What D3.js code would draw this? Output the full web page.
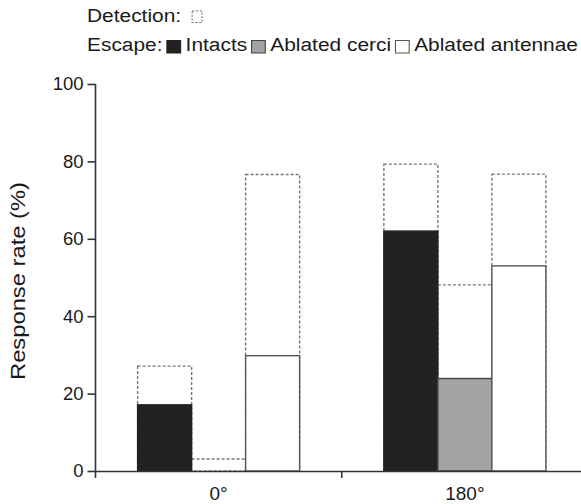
<!DOCTYPE html>
<html>
<head>
<meta charset="utf-8">
<script src="https://cdn.jsdelivr.net/npm/d3@7/dist/d3.min.js"></script>
<style>
  body { margin: 0; background: #fff; }
  svg { display: block; font-family: "Liberation Sans", Arial, sans-serif; }
</style>
</head>
<body>
<svg id="chart" width="581" height="504"></svg>
<script>
// data
var categories = ["0°", "180°"];
var groups = ["Intacts", "Ablated cerci", "Ablated antennae"];
var detection = [[27.1, 3.1, 76.6], [79.3, 48.1, 76.7]];
var escape = [[17.1, 0, 29.8], [62.0, 23.9, 53.0]];
var yTicks = [0, 20, 40, 60, 80, 100];

var fills = ["#222222", "#a3a3a3", "#ffffff"];
var strokes = ["#222222", "#444444", "#555555"];

var svg = d3.select("#chart");

const margin = { top: 84, right: -7, bottom: 33, left: 95.5 };
const width = 581, height = 504;
const Innerwidth = width - margin.left - margin.right;
const Innerheight = height - margin.top - margin.bottom;

var g = svg.append("g")
    .attr("transform", `translate(${margin.left},${margin.top})`);

// scales
var xScale = d3.scaleBand()
    .domain(categories)
    .range([0, Innerwidth])
    .padding(0);

var barW = 54;
var groupW = barW * groups.length;
var xInner = d3.scaleBand()
    .domain(groups)
    .range([(xScale.bandwidth() - groupW) / 2, (xScale.bandwidth() + groupW) / 2]);

var yScale = d3.scaleLinear()
    .domain([0, 100])
    .range([Innerheight, 0]);

// build rows
var rows = [];
categories.forEach(function (c, i) {
    groups.forEach(function (s, j) {
        rows.push({ cat: c, grp: s, j: j, det: detection[i][j], esc: escape[i][j] });
    });
});

// detection boxes (dashed)
g.selectAll(".det")
    .data(rows)
    .enter()
    .append("rect")
    .attr("class", "det")
    .attr("x", d => xScale(d.cat) + xInner(d.grp))
    .attr("y", d => yScale(d.det))
    .attr("width", xInner.bandwidth())
    .attr("height", d => yScale(0) - yScale(d.det))
    .attr("fill", "#fff")
    .attr("stroke", "#777")
    .attr("stroke-width", 1.4)
    .attr("stroke-dasharray", "3,2");

// escape bars
g.selectAll(".esc")
    .data(rows.filter(d => d.esc > 0))
    .enter()
    .append("rect")
    .attr("class", "esc")
    .attr("x", d => xScale(d.cat) + xInner(d.grp))
    .attr("y", d => yScale(d.esc))
    .attr("width", xInner.bandwidth())
    .attr("height", d => yScale(0) - yScale(d.esc))
    .attr("fill", d => fills[d.j])
    .attr("stroke", d => strokes[d.j])
    .attr("stroke-width", 1.4);

// y axis
var yAxis = g.append("g")
    .call(d3.axisLeft(yScale).tickValues(yTicks).tickSize(8).tickPadding(4).tickSizeOuter(0));
yAxis.select(".domain").attr("stroke", "#333").attr("stroke-width", 1.6)
    .attr("d", `M0,${yScale(100)}V${Innerheight + 7}`);
yAxis.selectAll(".tick line").attr("stroke", "#333").attr("stroke-width", 1.6);
yAxis.selectAll("text").attr("font-size", 18.5).attr("fill", "#1a1a1a").attr("font-family", "Liberation Sans, Arial, sans-serif");

// x axis
var xAxis = g.append("g")
    .attr("transform", `translate(0,${Innerheight})`)
    .call(d3.axisBottom(xScale).tickSize(0).tickPadding(16));
xAxis.select(".domain").attr("stroke", "#333").attr("stroke-width", 1.6);
xAxis.selectAll("text").attr("font-size", 19).attr("fill", "#1a1a1a").attr("font-family", "Liberation Sans, Arial, sans-serif");

// tick marks between categories
g.selectAll(".sep")
    .data(categories.slice(1))
    .enter()
    .append("line")
    .attr("x1", d => xScale(d))
    .attr("x2", d => xScale(d))
    .attr("y1", Innerheight)
    .attr("y2", Innerheight + 7)
    .attr("stroke", "#333")
    .attr("stroke-width", 1.6);

// y label
svg.append("text")
    .attr("transform", "translate(25,281) rotate(-90)")
    .attr("text-anchor", "middle")
    .attr("font-size", 20)
    .attr("fill", "#1a1a1a")
    .attr("textLength", 198)
    .attr("lengthAdjust", "spacingAndGlyphs")
    .text("Response rate (%)");

// Legend
var legend = svg.append("g")
    .attr("transform", "translate(87,0) scale(1.1,1)")
    .attr("font-size", 19)
    .attr("fill", "#1a1a1a");

var det = legend.append("text").attr("x", 0).attr("y", 22.5).text("Detection:");
var dx = det.node().getComputedTextLength() + 10;
legend.append("rect")
    .attr("x", dx).attr("y", 11).attr("width", 9).attr("height", 11.5)
    .attr("fill", "#fff").attr("stroke", "#777").attr("stroke-width", 1).attr("stroke-dasharray", "2,1.5");

var esc = legend.append("text").attr("x", 0).attr("y", 51.5).text("Escape:");
var cx = esc.node().getComputedTextLength() + 4;
groups.forEach(function (s, j) {
    legend.append("rect")
        .attr("x", cx).attr("y", 40.5).attr("width", 12.5).attr("height", 12.5)
        .attr("fill", fills[j]).attr("stroke", strokes[j]).attr("stroke-width", 1);
    var t = legend.append("text").attr("x", cx + 17).attr("y", 51.5).text(s);
    cx += 17 + t.node().getComputedTextLength() + 4;
});
</script>
</body>
</html>
